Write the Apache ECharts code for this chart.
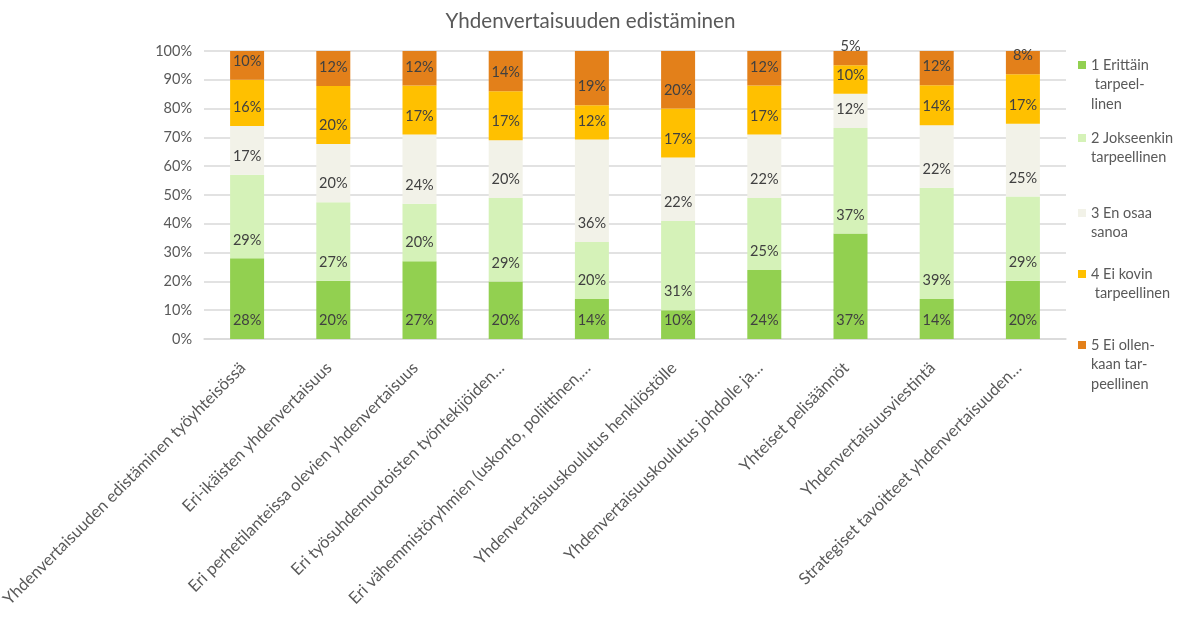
<!DOCTYPE html>
<html>
<head>
<meta charset="utf-8">
<script src="https://cdn.jsdelivr.net/npm/echarts@6/dist/echarts.min.js"></script>
<style>
html,body{margin:0;padding:0;background:#fff;}
#chart{width:1181px;height:629px;}
</style>
</head>
<body>
<div id="chart"></div>
<script>
const titleText = 'Yhdenvertaisuuden edistäminen';
const categories = [
  'Yhdenvertaisuuden edistäminen työyhteisössä',
  'Eri-ikäisten yhdenvertaisuus',
  'Eri perhetilanteissa olevien yhdenvertaisuus',
  'Eri työsuhdemuotoisten työntekijöiden…',
  'Eri vähemmistöryhmien (uskonto, poliittinen,…',
  'Yhdenvertaisuuskoulutus henkilöstölle',
  'Yhdenvertaisuuskoulutus johdolle ja…',
  'Yhteiset pelisäännöt',
  'Yhdenvertaisuusviestintä',
  'Strategiset tavoitteet yhdenvertaisuuden…'
];
const seriesNames = [
  '1 Erittäin tarpeellinen',
  '2 Jokseenkin tarpeellinen',
  '3 En osaa sanoa',
  '4 Ei kovin tarpeellinen',
  '5 Ei ollenkaan tarpeellinen'
];
const legendLabels = [
  '1 Erittäin\n tarpeel-\nlinen',
  '2 Jokseenkin\ntarpeellinen',
  '3 En osaa\nsanoa',
  '4 Ei kovin\n tarpeellinen',
  '5 Ei ollen-\nkaan tar-\npeellinen'
];
// percentages as labelled
const s1 = [28, 20, 27, 20, 14, 10, 24, 37, 14, 20];
const s2 = [29, 27, 20, 29, 20, 31, 25, 37, 39, 29];
const s3 = [17, 20, 24, 20, 36, 22, 22, 12, 22, 25];
const s4 = [16, 20, 17, 17, 12, 17, 17, 10, 14, 17];
const s5 = [10, 12, 12, 14, 19, 20, 12, 5, 12, 8];
const yTicks = [0, 10, 20, 30, 40, 50, 60, 70, 80, 90, 100];

const colors = ['#92D050', '#D5F2B8', '#F2F2E8', '#FFC000', '#E3801A'];
const allSeries = [s1, s2, s3, s4, s5];
const totals = categories.map((c, i) => allSeries.reduce((a, s) => a + s[i], 0));

const FONT = 'Lato';
const L = 19.5;
const legendFirstLine = [65, 138, 213, 274, 345];

const legends = legendLabels.map((lab, k) => {
  const n = lab.split('\n').length;
  // blank lines before the text put the first line level with the marker
  const shown = '\n'.repeat(n - 1) + lab;
  return {
    orient: 'vertical',
    left: 1078,
    top: legendFirstLine[k] - (2 * n - 1) * L / 2,
    padding: 0,
    icon: 'rect',
    itemWidth: 8,
    itemHeight: 8,
    selectedMode: false,
    data: [seriesNames[k]],
    formatter: () => shown,
    textStyle: {fontFamily: FONT, fontSize: 14.5, color: '#595959', lineHeight: L}
  };
});

const chart = echarts.init(document.getElementById('chart'), null, {renderer: 'canvas'});
chart.setOption({
  animation: false,
  color: colors,
  title: {
    text: titleText,
    left: 'center',
    top: 6,
    textStyle: {fontFamily: FONT, fontSize: 20.6, fontWeight: 'normal', color: '#595959'}
  },
  legend: legends,
  grid: {left: 204, right: 115, top: 51, bottom: 290, containLabel: false, outerBoundsMode: 'none'},
  xAxis: {
    type: 'category',
    data: categories,
    axisTick: {show: false},
    axisLine: {lineStyle: {color: '#D9D9D9', width: 1.5}},
    axisLabel: {
      rotate: 45, interval: 0, margin: 22, padding: [0, 6, 0, 0],
      fontFamily: FONT, fontSize: 16.5, color: '#595959'
    }
  },
  yAxis: {
    type: 'value',
    min: yTicks[0], max: yTicks[yTicks.length - 1], interval: yTicks[1] - yTicks[0],
    axisLine: {show: false},
    axisTick: {show: false},
    splitLine: {lineStyle: {color: '#D9D9D9', width: 1.5}},
    axisLabel: {formatter: '{value}%', margin: 12, fontFamily: FONT, fontSize: 14.5, color: '#595959'}
  },
  series: allSeries.map((s, k) => ({
    name: seriesNames[k],
    type: 'bar',
    stack: 'total',
    barWidth: 34,
    data: s.map((v, i) => v / totals[i] * 100),
    itemStyle: {color: colors[k]},
    label: {
      show: true,
      position: 'insideBottom',
      distance: 11,
      fontFamily: FONT, fontSize: 14.5, color: '#404040',
      formatter: p => s[p.dataIndex] + '%'
    }
  }))
});
</script>
</body>
</html>
